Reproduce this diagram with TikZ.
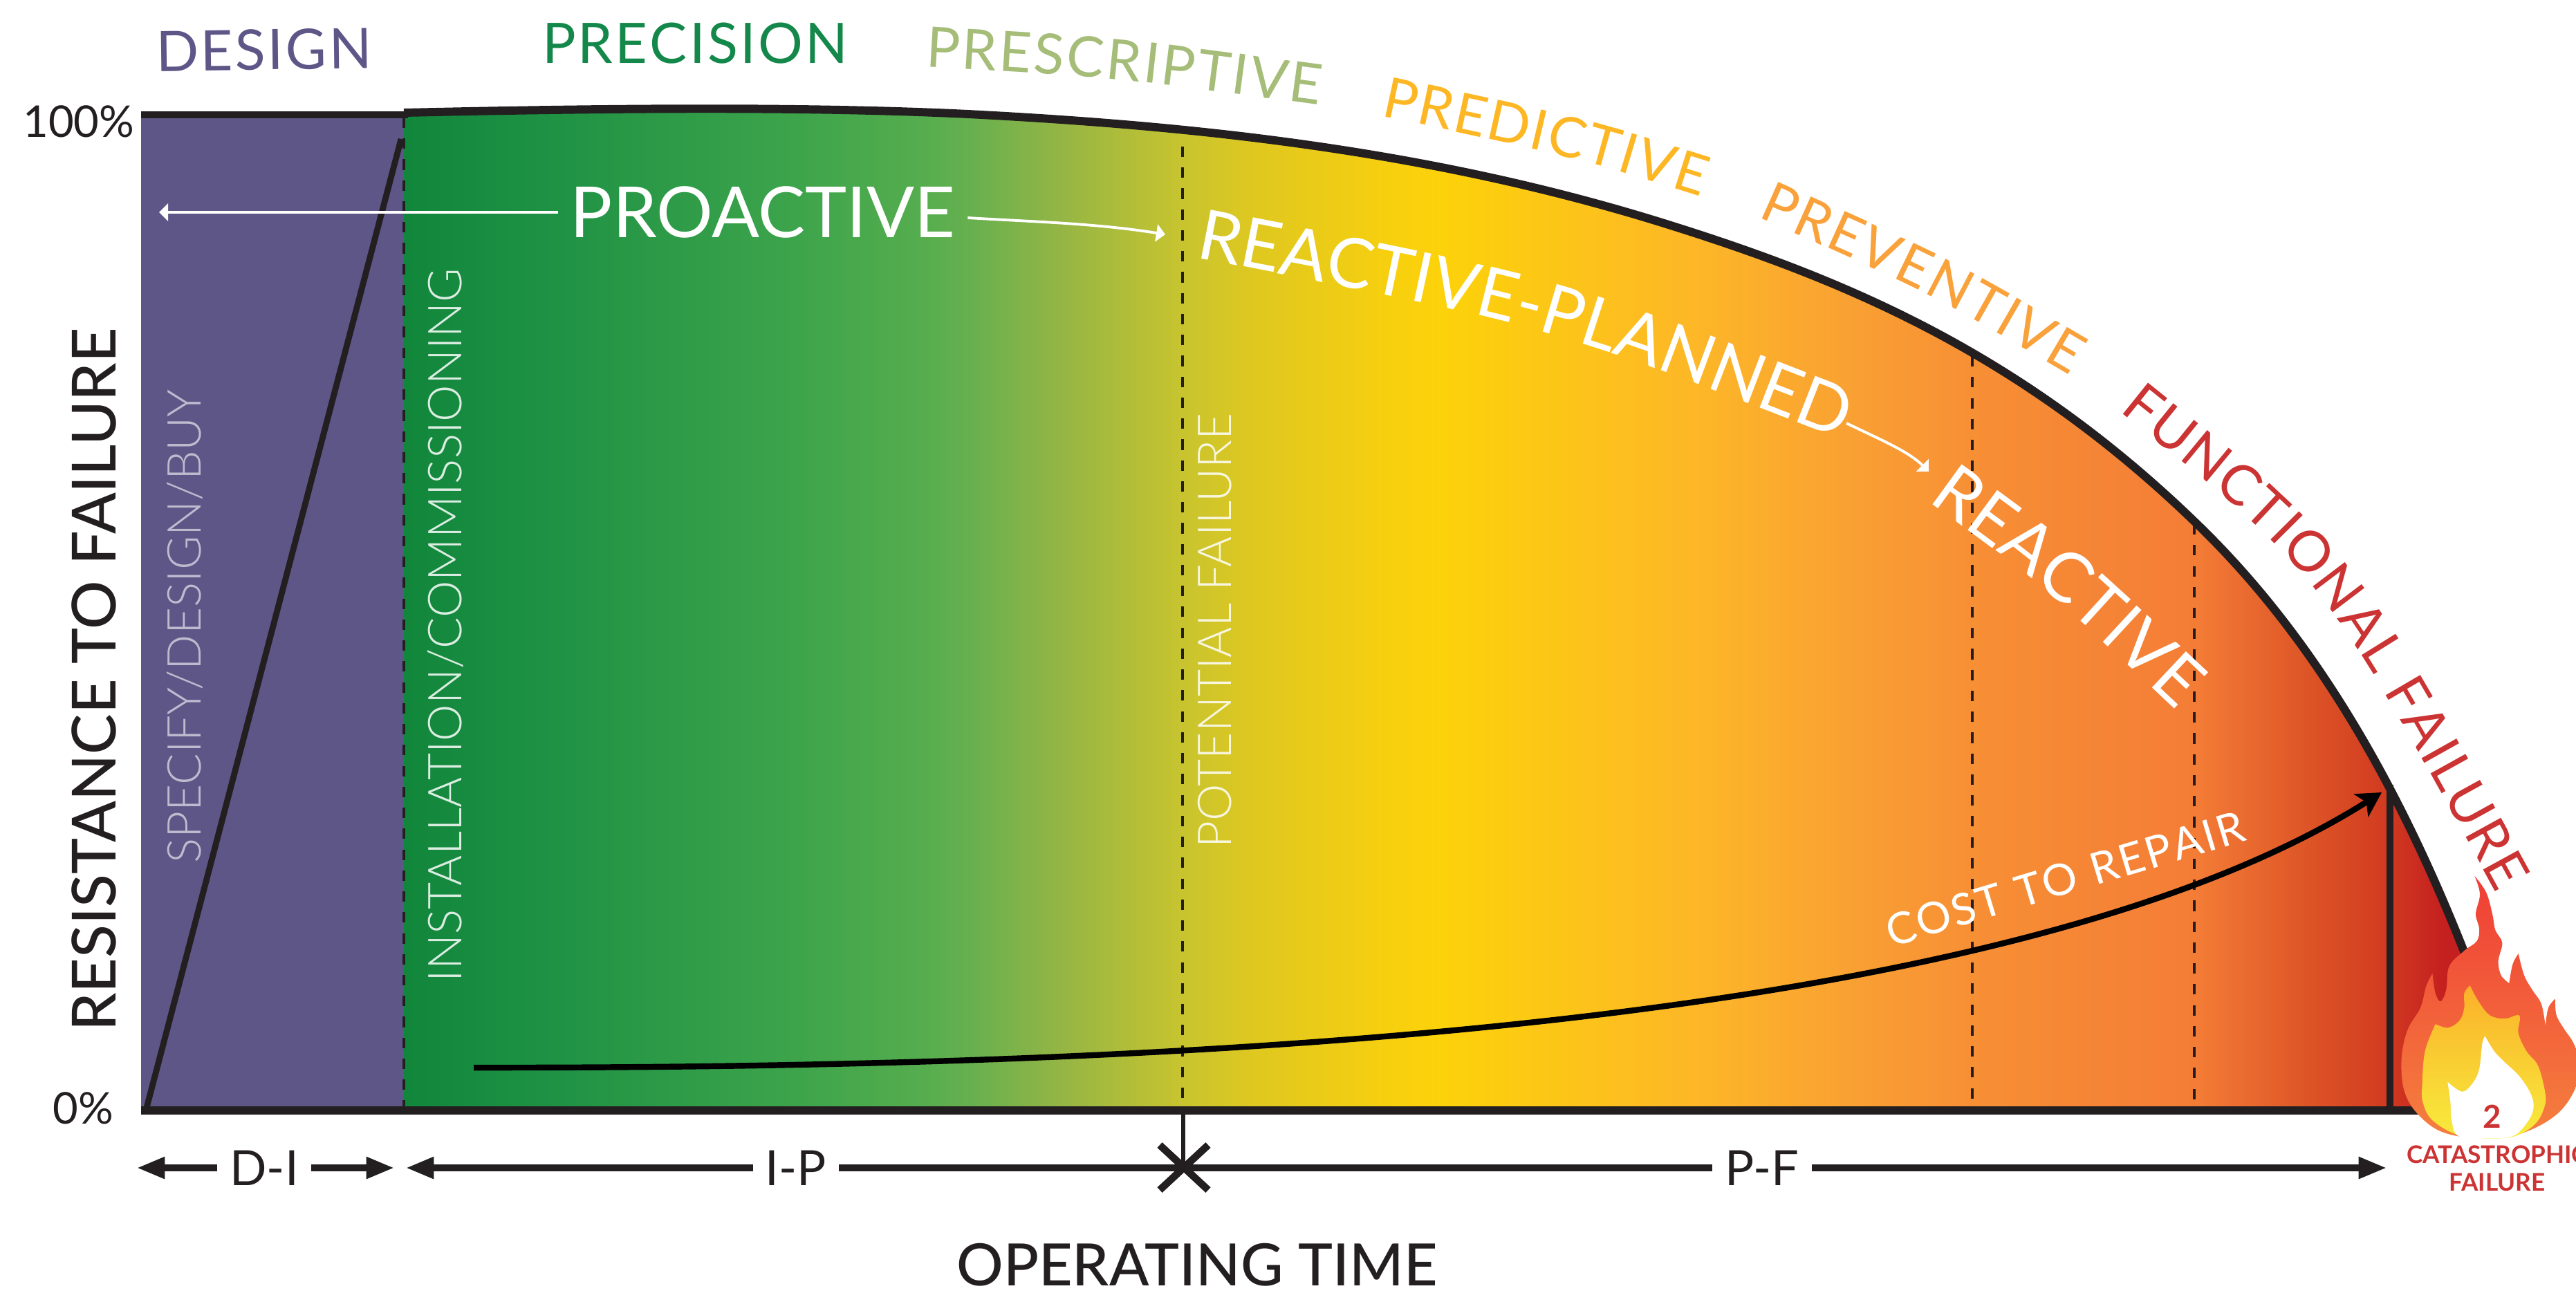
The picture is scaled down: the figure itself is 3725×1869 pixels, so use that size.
\documentclass[tikz,border=0pt]{standalone}
\usepackage{fontspec}
\usetikzlibrary{arrows.meta,decorations.text}
\newfontfamily\lightfont{Lato Light}
\newfontfamily\midfont{Lato}
\newfontfamily\heavyfont{Lato Medium}
\newfontfamily\boldfont{Lato Bold}

\definecolor{inkline}{HTML}{231F20}
\definecolor{designcol}{HTML}{5F5688}
\definecolor{precisioncol}{HTML}{13884A}
\definecolor{prescriptcol}{HTML}{A5BD78}
\definecolor{predictcol}{HTML}{FDB724}
\definecolor{preventcol}{HTML}{F9A13B}
\definecolor{functioncol}{HTML}{CC3333}
\definecolor{flametop}{HTML}{EF3E36}
\definecolor{flamelow}{HTML}{F5803E}
\definecolor{coretop}{HTML}{FBB02A}
\definecolor{corelow}{HTML}{F7EC3C}

% one stop for each place where the band changes, 25bp..75bp is the fill's width
\pgfdeclarehorizontalshading{lifeband}{100bp}{
  rgb(0bp)=(.067,.529,.235);
  rgb(25bp)=(.067,.529,.235);
  rgb(28.34bp)=(.118,.569,.267);
  rgb(34.26bp)=(.239,.643,.294);
  rgb(37.25bp)=(.333,.678,.306);
  rgb(38.35bp)=(.40,.69,.31);
  rgb(40.51bp)=(.58,.71,.27);
  rgb(43.42bp)=(.784,.769,.184);
  rgb(45.19bp)=(.878,.784,.122);
  rgb(48.64bp)=(.976,.816,.051);
  rgb(49.56bp)=(.988,.824,.039);
  rgb(55.50bp)=(.992,.718,.153);
  rgb(59.46bp)=(.976,.624,.20);
  rgb(62.12bp)=(.969,.561,.208);
  rgb(67.36bp)=(.957,.490,.212);
  rgb(70.17bp)=(.863,.325,.149);
  rgb(71.76bp)=(.824,.239,.129);
  rgb(73.25bp)=(.77,.125,.122);
  rgb(75bp)=(.77,.125,.122);
  rgb(100bp)=(.77,.125,.122)}

\tikzset{
  dashline/.style={inkline, line width=1.2pt, dash pattern=on 4.3pt off 4.3pt},
  dimline/.style={inkline, line width=2.6pt, -{Triangle[length=11.5pt,width=8.5pt]}},
  dimlabel/.style={inkline, inner sep=5pt, font=\midfont\fontsize{20pt}{20pt}\selectfont},
  whitearrow/.style={white, line width=1.1pt, -{Triangle[length=3.7pt,width=7.1pt]}},
  sidelabel/.style={rotate=90, inner sep=0pt, font=\lightfont\fontsize{19.2pt}{19.2pt}\selectfont},
  bentword/.style 2 args={decorate, decoration={text along path, text align={fit to path},
      text={|#1|#2}}},
}

% outline of the wear curve, used for the fill and for the stroke
\def\wearcurve{-- (584,163) .. controls (850,157) and (1150,153) .. (1400,165)
  .. controls (1733,182) and (2067,218) .. (2400,321)
  .. controls (2658,401) and (2915,505) .. (3173,754)
  .. controls (3320,895) and (3450,1090) .. (3563,1376)
  .. controls (3590,1445) and (3620,1530) .. (3640,1606)}

\begin{document}
\begin{tikzpicture}[x=0.01cm, y=-0.01cm]
    \useasboundingbox (0,0) rectangle (3725,1869);

    % bands
    \fill[designcol] (204,166) rectangle (584,1606);
    \shade[shading=lifeband] (584,1606) \wearcurve -- cycle;

    % stage limits
    \draw[dashline] (584,170) -- (584,1600);
    \draw[dashline] (1710,212) -- (1710,1600);
    \draw[dashline] (2852,515) -- (2852,1600);
    \draw[dashline] (3173,758) -- (3173,1600);
    \draw[inkline, line width=2.6pt] (3456,1135) -- (3456,1606);

    % axes and curve
    \draw[inkline, line width=2.5pt] (212,1602) -- (580,201);
    \draw[inkline, line width=2.9pt] (204,166) -- (590,166);
    \draw[inkline, line width=3.4pt] (584,163) \wearcurve;
    \draw[inkline, line width=3.4pt] (204,1606) -- (3640,1606);

    \node[inkline, anchor=east, inner sep=0pt, font=\midfont\fontsize{18pt}{18pt}\selectfont] (top100) at (195,176) {100\%};
    \node[inkline, anchor=east, inner sep=0pt, font=\midfont\fontsize{18pt}{18pt}\selectfont] (low0) at (165,1603) {0\%};
    \node[inkline, rotate=90, inner sep=0pt, font=\heavyfont\fontsize{25pt}{25pt}\selectfont] (yname) at (136,983) {RESISTANCE TO FAILURE};
    \node[inkline, inner sep=0pt, font=\heavyfont\fontsize{24pt}{24pt}\selectfont] (xname) at (1731,1829) {OPERATING TIME};

    \node[sidelabel, white, opacity=.6] (specify) at (267,906) {SPECIFY/DESIGN/BUY};
    \node[sidelabel, white, opacity=.85] (install) at (644,904) {INSTALLATION/COMMISSIONING};
    \node[sidelabel, white, opacity=.85] (potential) at (1757,912) {POTENTIAL FAILURE};

    % titles over the curve
    \path[bentword={\midfont\fontsize{23pt}{23pt}\selectfont\color{designcol}}{DESIGN}] (226,103) -- (538,99);
    \path[bentword={\midfont\fontsize{23pt}{23pt}\selectfont\color{precisioncol}}{PRECISION}] (784,91) -- (1226,92);
    \path[bentword={\midfont\fontsize{23pt}{23pt}\selectfont\color{prescriptcol}}{PRESCRIPTIVE}]
        (1338,96) .. controls (1612,112) .. (1908,152);
    \path[bentword={\midfont\fontsize{23pt}{23pt}\selectfont\color{predictcol}}{PREDICTIVE}]
        (1996,167) .. controls (2284,229) .. (2460,285);
    \path[bentword={\midfont\fontsize{23pt}{23pt}\selectfont\color{preventcol}}{PREVENTIVE}]
        (2541,313) .. controls (2797,427) .. (2994,543);
    \path[bentword={\midfont\fontsize{23pt}{23pt}\selectfont\color{functioncol}}{FUNCTIONAL FAILURE}]
        (3064,594) .. controls (3356,828) .. (3610,1292);

    % words inside the band
    \node[white, inner sep=5pt, font=\midfont\fontsize{29pt}{29pt}\selectfont] (proactive) at (1103,307) {PROACTIVE};
    \coordinate (prodesign) at (230,307);
    \coordinate (proplan) at (1685,339);
    \coordinate (planout) at (2670,612);
    \coordinate (reactin) at (2789,682);
    \draw[whitearrow] (proactive) -- (prodesign);
    \draw[whitearrow] (proactive.east) ++(0,8) .. controls +(100,6) and +(-100,-16) .. (proplan);
    \draw[whitearrow] (planout) .. controls +(45,22) and +(-30,-30) .. (reactin);
    \path[bentword={\midfont\fontsize{28.5pt}{28.5pt}\selectfont\color{white}}{REACTIVE-PLANNED}]
        (1728,372) .. controls (2243,472) .. (2660,635);
    \path[bentword={\midfont\fontsize{28.5pt}{28.5pt}\selectfont\color{white}}{REACTIVE}]
        (2787,724) .. controls (2951,843) .. (3148,1028);

    % cost curve
    \draw[black, line width=2.4pt, -{Stealth[length=10pt,width=11pt,inset=2.5pt]}]
        (685,1544) .. controls (1700,1545) and (2900,1490) .. (3444,1146);
    \path[bentword={\midfont\fontsize{18pt}{18pt}\selectfont\color{white}}{COST TO REPAIR}]
        (2735,1370) .. controls (3003,1289) .. (3250,1215);

    % time scale
    \node[dimlabel] (di) at (382,1689) {D-I};
    \node[dimlabel] (ip) at (1151,1689) {I-P};
    \node[dimlabel] (pf) at (2548,1689) {P-F};
    \coordinate (dileft) at (198,1689);
    \coordinate (diright) at (570,1689);
    \coordinate (ipleft) at (587,1689);
    \coordinate (pfright) at (3451,1689);
    \draw[dimline] (di) -- (dileft);
    \draw[dimline] (di) -- (diright);
    \draw[dimline] (ip) -- (ipleft);
    \draw[dimline] (pf) -- (pfright);
    \draw[inkline, line width=2.6pt] (ip) -- (pf);
    \draw[inkline, line width=1.9pt] (1711,1606) -- (1711,1689);
    \draw[inkline, line width=3pt] (1677,1656) -- (1747,1721);
    \draw[inkline, line width=3pt] (1747,1656) -- (1677,1721);

    % flame
    \begin{scope}[shift={(3300,1050)}, xscale=.3333, yscale=.5225, smooth, tension=.6]
        \shade[top color=flametop, bottom color=flamelow]
            plot coordinates {(835,415) (885,460) (912,520) (925,565) (955,600) (938,650) (950,690) (985,712)}
            -- plot coordinates {(985,712) (1000,660) (1025,630)}
            -- plot coordinates {(1025,630) (1050,690) (1085,730) (1125,770) (1142,830)}
            -- plot coordinates {(1142,830) (1155,780) (1185,755)}
            -- plot coordinates {(1185,755) (1190,800) (1225,840) (1262,875) (1285,920) (1280,990) (1200,1070) (1050,1125) (880,1142) (700,1125) (590,1075) (530,1010) (518,920) (545,840) (600,780) (625,720) (652,685)}
            -- plot coordinates {(652,685) (665,740) (688,762) (712,730) (725,665) (790,622) (845,595) (855,560) (840,520) (858,465) (835,415)}
            -- cycle;
        \shade[top color=coretop, bottom color=corelow]
            plot coordinates {(815,718) (850,760) (900,800) (965,810) (1020,800) (1032,810) (1025,850) (1060,900) (1110,940) (1140,1010) (1140,1050) (1100,1100) (1010,1135) (880,1142) (755,1130) (650,1090) (610,1040) (608,990) (620,900) (665,825)}
            -- plot coordinates {(665,825) (720,835) (770,815) (790,780) (790,740) (815,718)}
            -- cycle;
        \fill[white]
            plot coordinates {(880,858) (920,900) (965,930) (1030,970) (1080,1020) (1090,1060) (1060,1100) (1000,1135) (880,1142) (765,1135) (735,1090) (730,1040) (718,985)}
            -- plot coordinates {(718,985) (780,1012) (825,990) (855,950) (868,880) (880,858)}
            -- cycle;
    \end{scope}
    \node[functioncol, inner sep=0pt, font=\boldfont\fontsize{13pt}{13pt}\selectfont] (two) at (3604,1615) {2};
    \node[functioncol, inner sep=0pt, align=center, font=\boldfont\fontsize{10pt}{11.5pt}\selectfont] (catastrophe) at (3611,1690) {CATASTROPHIC\\FAILURE};
\end{tikzpicture}
\end{document}
